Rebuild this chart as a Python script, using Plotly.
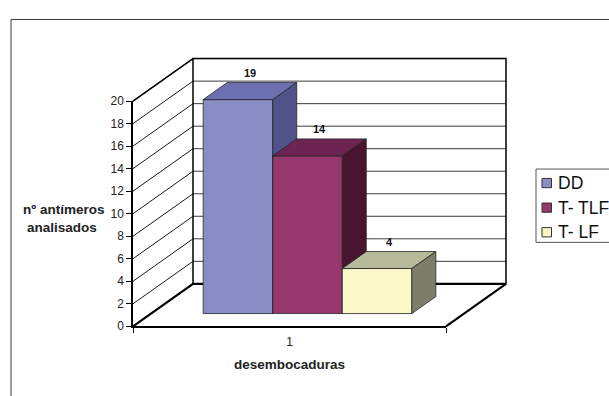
import plotly.graph_objects as go

# ---------------- data ----------------
categories = ["1"]
series_names = ["DD", "T- TLF", "T- LF"]
series_values = [19, 14, 4]
y_ticks = [0, 2, 4, 6, 8, 10, 12, 14, 16, 18, 20]
x_title = "desembocaduras"
y_title_lines = ["nº antímeros", "analisados"]

front_colors = ["#8A8DC4", "#97386C", "#FAF7C9"]
top_colors = ["#6C70B1", "#6E2452", "#B6BA99"]
side_colors = ["#50538A", "#48142F", "#7C7E69"]

# ---------------- geometry (layout) ----------------
W, H = 609, 396
X0_PX, Y0_PX = 133, 331          # front-left-bottom corner of the 3D box
FLOOR_W_PX = 313                  # width of the category floor
PX_PER_UNIT = 11.675              # pixels per value unit
DEPTH_DX_PX, DEPTH_DY_PX = 60, 44 # oblique depth vector
YMAX = 20

DX = DEPTH_DX_PX / FLOOR_W_PX
DY = DEPTH_DY_PX / PX_PER_UNIT
x_range = [-X0_PX / FLOOR_W_PX, (W - X0_PX) / FLOOR_W_PX]
y_range = [-(H - Y0_PX) / PX_PER_UNIT, Y0_PX / PX_PER_UNIT]

GAP_WIDTH = 1.5                   # Excel gap width 150 %
n = len(series_values)
BAR_W = 1.0 / (n + GAP_WIDTH)
START = GAP_WIDTH / 2 * BAR_W
FRONT_F, DEPTH_F = 0.3, 0.4       # bar placed in the middle 40 % of the depth

FONT = "Liberation Sans, Arial, sans-serif"
EDGE = "#262626"

fig = go.Figure()

# ---------------- walls & floor (main axes) ----------------
sx, sy, bx, by = [], [], [], []
for v in y_ticks:
    sx += [0, DX, None]
    sy += [v, v + DY, None]
    bx += [DX, 1 + DX, None]
    by += [v + DY, v + DY, None]
fig.add_trace(go.Scatter(x=bx, y=by, mode="lines", line=dict(color="#3c3c3c", width=1),
                         hoverinfo="skip", showlegend=False))
fig.add_trace(go.Scatter(x=sx, y=sy, mode="lines", line=dict(color="#1a1a1a", width=1),
                         hoverinfo="skip", showlegend=False))
# back wall frame
fig.add_trace(go.Scatter(x=[DX, DX, 1 + DX, 1 + DX], y=[DY, DY + YMAX, DY + YMAX, DY],
                         mode="lines", line=dict(color="#000", width=1.5),
                         hoverinfo="skip", showlegend=False))
fig.add_trace(go.Scatter(x=[0, DX], y=[YMAX, YMAX + DY],
                         mode="lines", line=dict(color="#000", width=1.5),
                         hoverinfo="skip", showlegend=False))
# floor edges
fig.add_trace(go.Scatter(x=[0, DX, 1 + DX, 1], y=[0, DY, DY, 0],
                         mode="lines", line=dict(color="#000", width=2.2),
                         hoverinfo="skip", showlegend=False))

# ---------------- 3D bars (one overlay per series, for occlusion order) ----------------
ann = []
bdx, bdy = DEPTH_F * DX, DEPTH_F * DY
base = FRONT_F * DY
for i, (name, v) in enumerate(zip(series_names, series_values)):
    ax = str(i + 2)
    xl = START + i * BAR_W + FRONT_F * DX
    xr = xl + BAR_W
    top = base + v
    fig.add_trace(go.Bar(x=[(xl + xr) / 2], y=[v], base=[base], width=[BAR_W], name=name,
                         marker=dict(color=front_colors[i], line=dict(color=EDGE, width=0.8)),
                         xaxis="x" + ax, yaxis="y" + ax, showlegend=False, hoverinfo="skip"))
    fig.add_trace(go.Scatter(x=[xl, xr, xr + bdx, xl + bdx, xl],
                             y=[top, top, top + bdy, top + bdy, top],
                             fill="toself", fillcolor=top_colors[i], mode="lines",
                             line=dict(color=EDGE, width=0.8), xaxis="x" + ax, yaxis="y" + ax,
                             showlegend=False, hoverinfo="skip"))
    fig.add_trace(go.Scatter(x=[xr, xr + bdx, xr + bdx, xr, xr],
                             y=[base, base + bdy, top + bdy, top, base],
                             fill="toself", fillcolor=side_colors[i], mode="lines",
                             line=dict(color=EDGE, width=0.8), xaxis="x" + ax, yaxis="y" + ax,
                             showlegend=False, hoverinfo="skip"))
    ann.append(dict(text=str(v), x=(xl + xr) / 2 + bdx / 2, y=top + bdy,
                    xref="x" + ax, yref="y" + ax, xanchor="center", yanchor="middle",
                    yshift=9.5, showarrow=False,
                    font=dict(family=FONT, size=11, color="#111", weight="bold")))

hidden = dict(visible=False, fixedrange=True)
layout_axes = dict(
    xaxis=dict(domain=[0, 1], range=x_range, anchor="y", **hidden),
    yaxis=dict(domain=[0, 1], range=y_range, anchor="x", **hidden),
)
for k in range(2, n + 2):
    layout_axes["xaxis%d" % k] = dict(range=x_range, overlaying="x", anchor="y%d" % k, **hidden)
    layout_axes["yaxis%d" % k] = dict(range=y_range, overlaying="y", anchor="x%d" % k, **hidden)

# real value / category axes on the front plane
k = n + 2
layout_axes["xaxis%d" % k] = dict(
    domain=[X0_PX / W, (X0_PX + FLOOR_W_PX) / W], anchor="y%d" % k, range=[0, 1],
    tickmode="array", tickvals=[0.5], ticktext=categories, ticks="",
    showline=True, linecolor="#000", linewidth=2, showgrid=False, zeroline=False,
    tickfont=dict(family=FONT, size=12, color="#222"), ticklabelstandoff=3,
    minor=dict(tickmode="array", tickvals=[0, 1], ticks="outside", ticklen=5,
               tickcolor="#000", tickwidth=1, showgrid=False),
    fixedrange=True,
)
layout_axes["yaxis%d" % k] = dict(
    domain=[(H - Y0_PX) / H, (H - Y0_PX + YMAX * PX_PER_UNIT) / H], anchor="x%d" % k,
    range=[0, YMAX], tickmode="array", tickvals=y_ticks, ticks="outside", ticklen=5,
    tickcolor="#000", showline=True, linecolor="#000", linewidth=1.5, showgrid=False,
    zeroline=False, tickfont=dict(family=FONT, size=12, color="#222"), fixedrange=True,
)
fig.add_trace(go.Scatter(x=[None], y=[None], xaxis="x%d" % k, yaxis="y%d" % k,
                         showlegend=False, hoverinfo="skip"))

# ---------------- titles ----------------
titles = [
    dict(text=x_title, x=(X0_PX + FLOOR_W_PX / 2) / W, y=1 - 370.5 / H),
    dict(text=y_title_lines[0], x=63.5 / W, y=1 - 209.5 / H),
    dict(text=y_title_lines[1], x=61.5 / W, y=1 - 229 / H),
]
for a in titles:
    a.update(xref="paper", yref="paper", xanchor="center", yanchor="middle", showarrow=False,
             font=dict(family=FONT, size=13.5, color="#222", weight="bold"))
ann += titles

# ---------------- legend (drawn, Excel style) ----------------
shapes = [
    dict(type="rect", xref="paper", yref="paper", x0=11 / W, x1=2, y0=1 - 13 / H, y1=-1,
         line=dict(color="#3a3a3a", width=1), fillcolor="rgba(0,0,0,0)", layer="below"),
    dict(type="rect", xref="paper", yref="paper", x0=536 / W, x1=700 / W,
         y0=1 - 168 / H, y1=1 - 244 / H, line=dict(color="#555", width=1), fillcolor="white"),
]
leg_y = [182.5, 208, 233.5]
for i, name in enumerate(series_names):
    yc = leg_y[i]
    shapes.append(dict(type="rect", xref="paper", yref="paper", x0=542 / W, x1=551.5 / W,
                       y0=1 - (yc - 4.8) / H, y1=1 - (yc + 4.8) / H,
                       line=dict(color="#333", width=1), fillcolor=front_colors[i]))
    ann.append(dict(text=name, x=555.5 / W, y=1 - yc / H, xref="paper", yref="paper",
                    xanchor="left", yanchor="middle", showarrow=False,
                    font=dict(family=FONT, size=17.5, color="#111")))

fig.update_layout(
    width=W, height=H, margin=dict(l=0, r=0, t=0, b=0),
    paper_bgcolor="white", plot_bgcolor="rgba(0,0,0,0)",
    showlegend=False, barmode="overlay",
    annotations=ann, shapes=shapes, **layout_axes,
)

fig.write_html("out.html", config={"displayModeBar": False})
